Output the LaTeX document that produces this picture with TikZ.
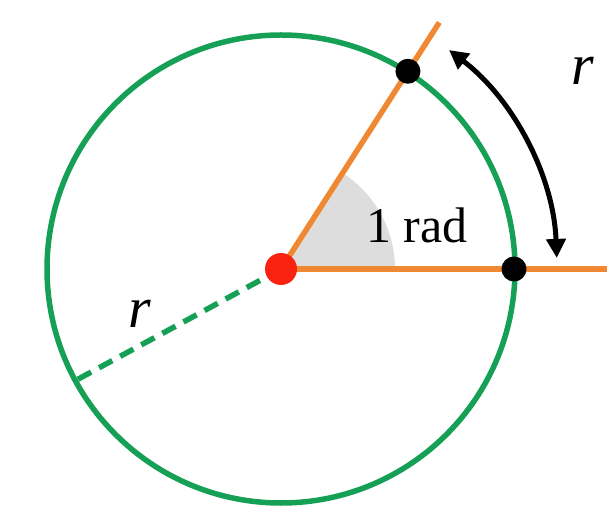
\documentclass[tikz,border=0pt]{standalone}
\usepackage{fontspec}
\setmainfont{Liberation Serif}
\usetikzlibrary{arrows.meta,calc}
\definecolor{cgreen}{RGB}{22,160,85}
\definecolor{corange}{RGB}{240,135,50}
\definecolor{cred}{RGB}{250,35,15}
\definecolor{cgrey}{RGB}{221,221,221}
\tikzset{
  circ/.style={draw=cgreen,line width=5.5pt},
  ray/.style={draw=corange,line width=5.5pt},
  dashray/.style={draw=cgreen,line width=5.5pt,dash pattern=on 15pt off 9pt},
  arcarrow/.style={draw=black,line width=5pt,{Triangle[length=19pt,width=19pt]}-{Triangle[length=19pt,width=19pt]}},
  lbl/.style={font=\fontsize{58}{60}\selectfont\itshape,anchor=base,inner sep=0pt},
  radlbl/.style={font=\fontsize{50}{55}\selectfont,anchor=base west,inner sep=0pt}
}
\begin{document}
\begin{tikzpicture}[x=1pt,y=1pt]
\useasboundingbox (0,0) rectangle (616,512);
\coordinate (O) at (281,243);
\coordinate (A) at ($(O)+(0:233)$);
\coordinate (B) at ($(O)+(57.3:235)$);
\coordinate (Hend) at (607,243);
\coordinate (Tend) at ($(O)+(57.3:293)$);
\coordinate (D) at ($(O)+(208.5:234)$);
\coordinate (S1) at ($(O)+(0:114)$);
% circle
\draw[circ] (O) circle[radius=234];
% grey sector
\fill[cgrey] (O) -- (S1) arc[start angle=0,end angle=57.3,radius=114] -- cycle;
% rays
\draw[ray] (O) -- (Hend);
\draw[ray] (O) -- (Tend);
\draw[dashray] (O) -- (D);
% arc arrow
\draw[arcarrow] ($(O)+(52.5:276)$) arc[start angle=52.5,end angle=2.3,radius=276];
% dots
\fill[cred] (O) circle[radius=16];
\fill[black] (A) circle[radius=12.5];
\fill[black] (B) circle[radius=12.5];
% labels
\node[lbl] (r1) at (583,427) {r};
\node[lbl] (r2) at (140,184) {r};
\node[radlbl] (rad) at (366,269) {1 rad};
\end{tikzpicture}
\end{document}
